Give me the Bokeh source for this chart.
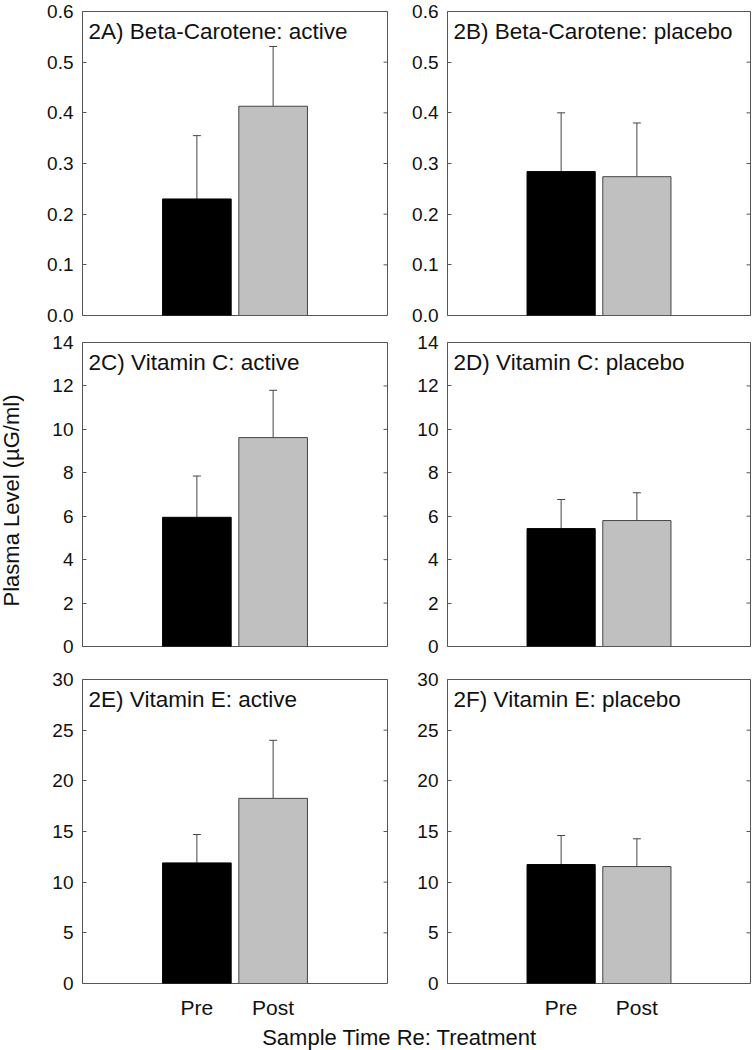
import math
from bokeh.plotting import figure
from bokeh.layouts import column, row
from bokeh.models import (Range1d, FixedTicker, NumeralTickFormatter,
                          Whisker, TeeHead, ColumnDataSource)
from bokeh.embed import file_html
from bokeh.resources import INLINE
from bokeh.core.properties import value

# ---- data ----
panel_labels = ["2A) Beta-Carotene: active", "2B) Beta-Carotene: placebo",
                "2C) Vitamin C: active", "2D) Vitamin C: placebo",
                "2E) Vitamin E: active", "2F) Vitamin E: placebo"]
times = ["Pre", "Post"]
pre_mean = [0.230, 0.284, 5.95, 5.43, 11.90, 11.74]
post_mean = [0.413, 0.274, 9.62, 5.80, 18.27, 11.54]
pre_sd = [0.125, 0.116, 1.90, 1.34, 2.80, 2.86]
post_sd = [0.118, 0.106, 2.18, 1.28, 5.73, 2.74]
y_max = [0.6, 0.6, 14, 14, 30, 30]
y_step = [0.1, 0.1, 2, 2, 5, 5]
y_fmt = ["0.0", "0.0", "0", "0", "0", "0"]
y_title = "Plasma Level (\u00b5G/ml)"
x_title = "Sample Time Re: Treatment"

FONT = "Liberation Sans"
FRAME_COL = "#555555"
TEXT_COL = "#111111"
BAR_FILL = ["#000000", "#c0c0c0"]
BAR_LINE = ["#000000", "#454545"]

YLAB_W = 24
ROW_TOP = [11, 15, 16]
ROW_BOT = [12, 17, 36]
FRAME_H = 304
XL_H = 31
TOTAL_H = sum(ROW_TOP) + sum(ROW_BOT) + 3 * FRAME_H + XL_H


def make_panel(i):
    left_col = (i % 2 == 0)
    rowi = i // 2
    ymax = y_max[i]
    p = figure(frame_width=305 if left_col else 303, frame_height=FRAME_H,
               x_range=Range1d(0, 4), y_range=Range1d(0, ymax),
               output_backend="svg", toolbar_location=None)
    p.min_border_left = (82 - YLAB_W) if left_col else 50
    p.min_border_right = 10 if left_col else 3
    p.min_border_top = ROW_TOP[rowi]
    p.min_border_bottom = ROW_BOT[rowi]
    p.background_fill_color = "white"
    p.border_fill_color = "white"
    p.outline_line_color = FRAME_COL
    p.outline_line_width = 1
    p.grid.visible = False

    xs = [k + 1.5 for k in range(len(times))]
    tops = [pre_mean[i], post_mean[i]]
    errs = [pre_mean[i] + pre_sd[i], post_mean[i] + post_sd[i]]
    src = ColumnDataSource(dict(x=xs, top=tops, err=errs, fill=BAR_FILL, line=BAR_LINE))
    p.vbar(x="x", top="top", bottom=0, width=0.9, source=src,
           fill_color="fill", line_color="line", line_width=1)
    w = Whisker(source=src, base="x", lower="top", upper="err",
                line_color="#454545", line_width=1,
                upper_head=TeeHead(size=8, line_color="#454545", line_width=1),
                lower_head=None)
    p.add_layout(w)

    # y axis (left), inward ticks
    nt = int(round(ymax / y_step[i]))
    ticks = [round(k * y_step[i], 6) for k in range(nt + 1)]
    ya = p.yaxis[0]
    ya.ticker = FixedTicker(ticks=ticks)
    ya.formatter = NumeralTickFormatter(format=y_fmt[i])
    ya.major_label_text_font = FONT
    ya.major_label_text_font_size = "19px"
    ya.major_label_text_color = TEXT_COL
    ya.major_tick_in = 4
    ya.major_tick_out = 0
    ya.minor_tick_in = 0
    ya.minor_tick_out = 0
    ya.major_tick_line_color = FRAME_COL
    ya.axis_line_color = None
    ya.major_label_standoff = 9

    # inward ticks on the right edge
    p.ray(x=[4] * len(ticks), y=ticks, length=4, length_units="screen",
          angle=math.pi, line_color=FRAME_COL, line_width=1)

    # x axis
    xa = p.xaxis[0]
    if rowi == 2:
        xa.ticker = FixedTicker(ticks=xs)
        xa.major_label_overrides = {xs[k]: times[k] for k in range(len(times))}
        xa.major_label_text_font = FONT
        xa.major_label_text_font_size = "21px"
        xa.major_label_text_color = TEXT_COL
        xa.major_tick_in = 0
        xa.major_tick_out = 0
        xa.minor_tick_in = 0
        xa.minor_tick_out = 0
        xa.axis_line_color = None
        xa.major_label_standoff = 12
    else:
        xa.visible = False

    # panel label
    p.text(x=[0.08], y=[ymax * (1 - 20 / FRAME_H)], text=[panel_labels[i]],
           text_font=value(FONT), text_font_size="22.5px", text_color=TEXT_COL,
           text_align="left", text_baseline="middle")
    return p


panels = [make_panel(i) for i in range(6)]

# y-axis title column
yl = figure(width=YLAB_W, height=TOTAL_H, x_range=Range1d(0, YLAB_W),
            y_range=Range1d(TOTAL_H, 0), output_backend="svg", toolbar_location=None)
yl.min_border = 0
yl.axis.visible = False
yl.grid.visible = False
yl.outline_line_color = None
yl.text(x=[11], y=[500], text=[y_title], angle=math.pi / 2, text_font=value(FONT),
        text_font_size="22px", text_color=TEXT_COL, text_align="center",
        text_baseline="middle")

# x-axis title row
xl = figure(width=753 - YLAB_W, height=XL_H, x_range=Range1d(YLAB_W, 753),
            y_range=Range1d(XL_H, 0), output_backend="svg", toolbar_location=None)
xl.min_border = 0
xl.axis.visible = False
xl.grid.visible = False
xl.outline_line_color = None
xl.text(x=[399], y=[16], text=[x_title], text_font=value(FONT), text_font_size="22px",
        text_color=TEXT_COL, text_align="center", text_baseline="middle")

grid = column(row(panels[0], panels[1]), row(panels[2], panels[3]),
              row(panels[4], panels[5]), xl)
layout = row(yl, grid)

open("out.html", "w").write(file_html(layout, INLINE))
